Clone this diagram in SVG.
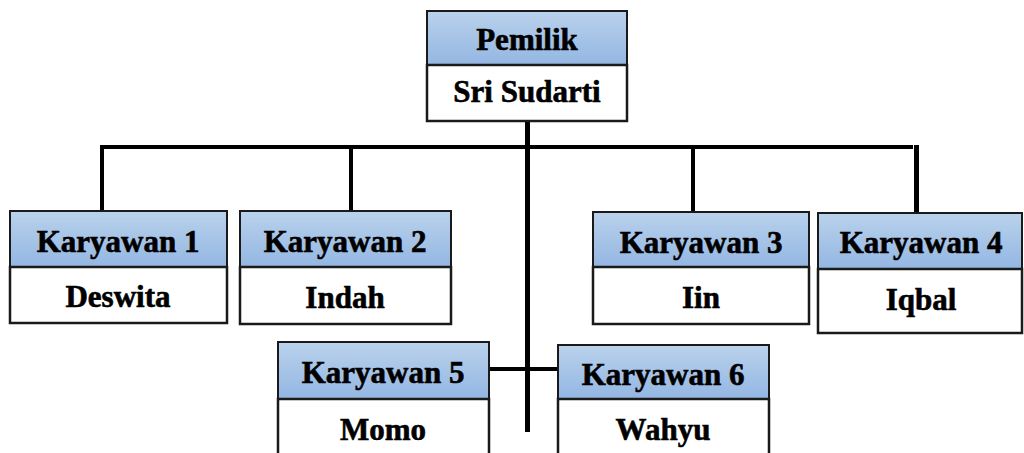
<svg xmlns="http://www.w3.org/2000/svg" width="1024" height="453" viewBox="0 0 1024 453">
<defs>
<linearGradient id="hdr" x1="0" y1="0" x2="0" y2="1">
<stop offset="0" stop-color="#bad2ec"/>
<stop offset="1" stop-color="#93b6e2"/>
</linearGradient>
</defs>
<style>
.h{fill:url(#hdr);stroke:#1a1a1a;stroke-width:2}
.b{fill:#ffffff;stroke:#1a1a1a;stroke-width:2.5}
.t{font-family:"Liberation Serif","Times New Roman",serif;font-weight:bold;font-size:31px;fill:#000;stroke:#000;stroke-width:0.6;text-anchor:middle}
.c{stroke:#000;fill:none;stroke-linecap:butt}
</style>
<rect width="1024" height="453" fill="#ffffff"/>
<g id="connectors">
<line class="c" x1="527.5" y1="121" x2="527.5" y2="432" stroke-width="5"/>
<line class="c" x1="100" y1="147" x2="913" y2="147" stroke-width="4"/>
<line class="c" x1="102" y1="145" x2="102" y2="211" stroke-width="4"/>
<line class="c" x1="351" y1="147" x2="351" y2="211" stroke-width="4"/>
<line class="c" x1="693" y1="147" x2="693" y2="212" stroke-width="4"/>
<line class="c" x1="916.5" y1="145" x2="916.5" y2="213" stroke-width="5"/>
<line class="c" x1="489" y1="369" x2="558" y2="369" stroke-width="4"/>
</g>
<g id="pemilik">
<rect class="h" x="427" y="11" width="200" height="54"/>
<rect class="b" x="427" y="65" width="200" height="56"/>
<text class="t" x="527" y="50">Pemilik</text>
<text class="t" x="527" y="102">Sri Sudarti</text>
</g>
<g id="karyawan1">
<rect class="h" x="10" y="211" width="217" height="56"/>
<rect class="b" x="10" y="267" width="217" height="56"/>
<text class="t" x="118" y="252">Karyawan 1</text>
<text class="t" x="118" y="307">Deswita</text>
</g>
<g id="karyawan2">
<rect class="h" x="240" y="211" width="211" height="56"/>
<rect class="b" x="240" y="267" width="211" height="57"/>
<text class="t" x="345" y="252">Karyawan 2</text>
<text class="t" x="345" y="308">Indah</text>
</g>
<g id="karyawan3">
<rect class="h" x="593" y="212" width="216" height="55"/>
<rect class="b" x="593" y="267" width="216" height="57"/>
<text class="t" x="701" y="253">Karyawan 3</text>
<text class="t" x="701" y="308">Iin</text>
</g>
<g id="karyawan4">
<rect class="h" x="818" y="213" width="204" height="56"/>
<rect class="b" x="818" y="269" width="204" height="64"/>
<text class="t" x="921" y="253">Karyawan 4</text>
<text class="t" x="921" y="310">Iqbal</text>
</g>
<g id="karyawan5">
<rect class="h" x="278" y="342" width="211" height="57"/>
<rect class="b" x="278" y="399" width="211" height="64"/>
<text class="t" x="383" y="383">Karyawan 5</text>
<text class="t" x="383" y="440">Momo</text>
</g>
<g id="karyawan6">
<rect class="h" x="558" y="345" width="211" height="54"/>
<rect class="b" x="558" y="399" width="211" height="64"/>
<text class="t" x="663" y="385">Karyawan 6</text>
<text class="t" x="663" y="440">Wahyu</text>
</g>
</svg>
